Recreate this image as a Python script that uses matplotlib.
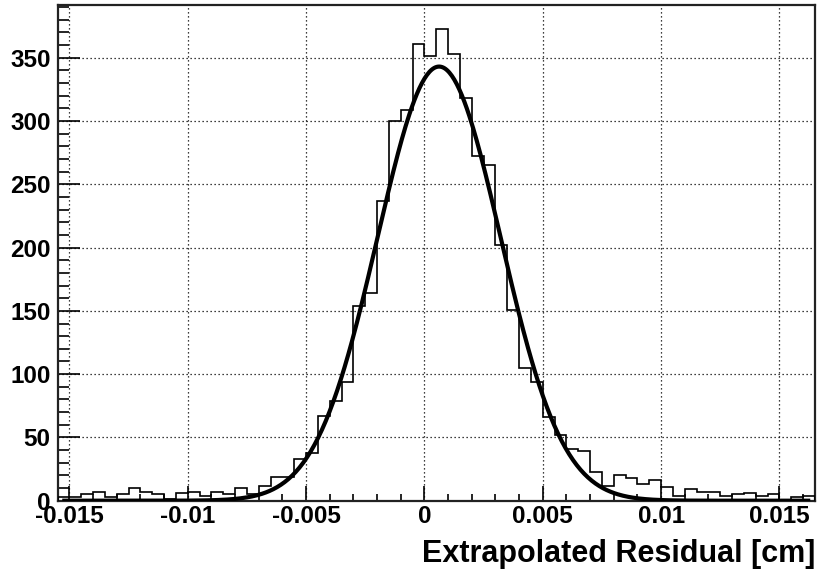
import numpy as np
import matplotlib
matplotlib.use("Agg")
import matplotlib.pyplot as plt
from matplotlib.ticker import MultipleLocator, FixedLocator

# ---- data ----
bin_low = -0.0155
bin_high = 0.0165
n_bins = 64
counts = [3, 3, 5, 7, 3, 5, 10, 7, 5, 1,
          6, 7, 4, 7, 5, 10, 5, 12, 19, 19,
          33, 38, 67, 79, 94, 154, 164, 237, 300, 309,
          361, 351, 373, 353, 318, 272, 265, 202, 151, 105,
          94, 66, 52, 41, 39, 23, 12, 20, 18, 13,
          16, 11, 4, 9, 7, 7, 4, 5, 6, 4,
          5, 0, 3, 4]
fit_amp = 343.0
fit_mean = 0.00062
fit_sigma = 0.0026
x_ticks = [-0.015, -0.01, -0.005, 0, 0.005, 0.01, 0.015]
x_tick_labels = ["-0.015", "-0.01", "-0.005", "0", "0.005", "0.01", "0.015"]
y_ticks = [0, 50, 100, 150, 200, 250, 300, 350]
x_title = "Extrapolated Residual [cm]"

plt.rcParams['font.family'] = ['Liberation Sans', 'DejaVu Sans']
plt.rcParams['font.weight'] = 'bold'

W, H = 817, 574
fig = plt.figure(figsize=(W / 100, H / 100), dpi=100)
ax = fig.add_axes([57.5 / W, (H - 500.7) / H, (815 - 57.5) / W, (500.7 - 5) / H])

edges = np.linspace(bin_low, bin_high, n_bins + 1)
ax.stairs(counts, edges, color='black', lw=1.2, baseline=0, zorder=3)

xf = np.linspace(bin_low + 0.0002, bin_high - 0.0002, 600)
yf = fit_amp * np.exp(-0.5 * ((xf - fit_mean) / fit_sigma) ** 2)
ax.plot(xf, yf, color='black', lw=3.0, zorder=4, solid_capstyle='butt')

ax.set_xlim(bin_low, bin_high)
ax.set_ylim(0, max(counts) * 1.05)

ax.xaxis.set_major_locator(FixedLocator(x_ticks))
ax.set_xticklabels(x_tick_labels)
ax.xaxis.set_minor_locator(MultipleLocator(0.001))
ax.yaxis.set_major_locator(FixedLocator(y_ticks))
ax.yaxis.set_minor_locator(MultipleLocator(10))

ax.tick_params(axis='both', which='both', direction='in', colors='black',
               labelsize=17.5, width=1.2)
ax.tick_params(axis='x', which='major', length=10.5, pad=3)
ax.tick_params(axis='x', which='minor', length=5.2)
ax.tick_params(axis='y', which='major', length=16, pad=5)
ax.tick_params(axis='y', which='minor', length=8)
for lab in ax.get_xticklabels() + ax.get_yticklabels():
    lab.set_fontweight('bold')

ax.grid(True, which='major', color='black', lw=0.9, linestyle=(0, (1, 2.2)), zorder=1)
ax.set_axisbelow(True)

for s in ax.spines.values():
    s.set_linewidth(1.6)
    s.set_color('#222222')

fig.text(815 / W, (H - 562) / H, x_title, ha='right', va='baseline',
         fontsize=22, fontweight='bold')

fig.savefig("out.png", dpi=100)
